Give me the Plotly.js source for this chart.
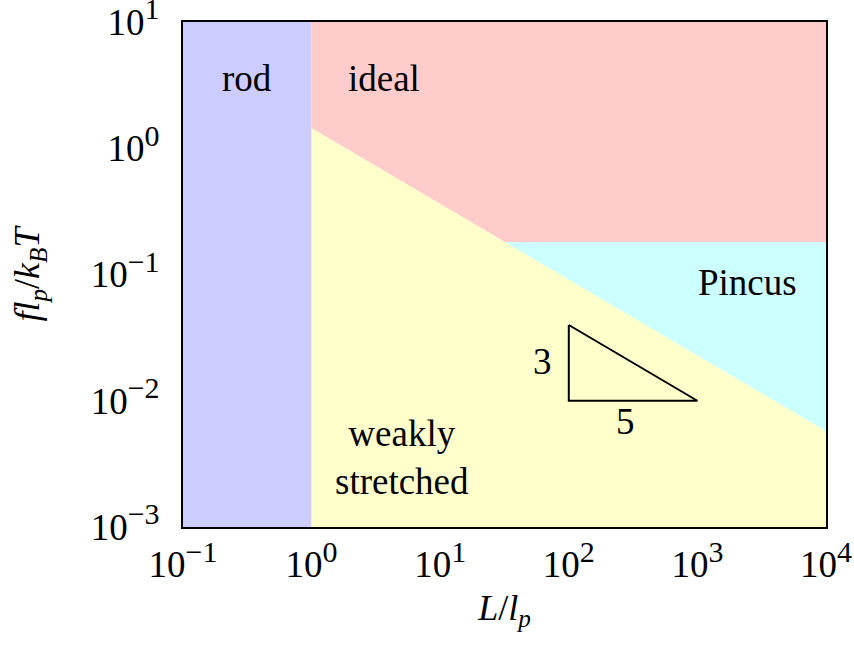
<!DOCTYPE html>
<html>
<head>
<meta charset="utf-8">
<script src="https://cdn.plot.ly/plotly-3.0.1.min.js"></script>
<style>html,body{margin:0;padding:0;background:#fff;}#chart{width:854px;height:648px;}</style>
</head>
<body>
<div id="chart"></div>
<script>
// Axis ranges (L/l_p and f l_p / k_B T)
const xRange = [0.1, 1e4];
const yRange = [1e-3, 10];
// Rod / ideal boundary
const rodEdge = 1;
// Weakly-stretched crossover line f ~ L^(-3/5)
const lineX = [1, 1e4];
const lineY = [1.44, 0.00574];
// Pincus boundary
const pincusY = 0.18;
const pincusX = 32;
// Slope triangle (3/5)
const triX = [100, 100, 1000, 100];
const triY = [0.0398, 0.01, 0.01, 0.0398];
// Tick values and labels
const tickVals = [0.1, 1, 10, 100, 1000, 10000];
const tickExpX = ["−1", "0", "1", "2", "3", "4"];
const yTickVals = [0.001, 0.01, 0.1, 1, 10];
const tickExpY = ["−3", "−2", "−1", "0", "1"];
// Region labels
const labelText = ["rod", "ideal", "Pincus", "weakly<br>stretched", "3", "5"];
const labelX = [0.316, 3.67, 2450, 5.08, 63, 275];
const labelY = [3.6, 3.6, 0.0857, 0.00352, 0.0204, 0.0069];

const colors = {rod: "#ccccff", ideal: "#ffcccc", weak: "#ffffcc", pincus: "#ccffff"};
const pow10 = e => "10<sup><span style=\"font-size:30px\">" + e + "</span></sup>";

function region(x, y, color) {
  return {x: x, y: y, type: "scatter", mode: "lines", fill: "toself",
    fillcolor: color, line: {width: 0, color: color}, hoverinfo: "skip", showlegend: false};
}

const traces = [
  region([xRange[0], rodEdge, rodEdge, xRange[0], xRange[0]],
         [yRange[0], yRange[0], yRange[1], yRange[1], yRange[0]], colors.rod),
  region([lineX[0], pincusX, xRange[1], xRange[1], lineX[0], lineX[0]],
         [lineY[0], pincusY, pincusY, yRange[1], yRange[1], lineY[0]], colors.ideal),
  region([pincusX, xRange[1], xRange[1], pincusX],
         [pincusY, pincusY, lineY[1], pincusY], colors.pincus),
  region([lineX[0], lineX[1], xRange[1], lineX[0], lineX[0]],
         [lineY[0], lineY[1], yRange[0], yRange[0], lineY[0]], colors.weak),
  {x: triX, y: triY, type: "scatter", mode: "lines",
   line: {color: "#000", width: 2}, hoverinfo: "skip", showlegend: false}
];

const font = "Liberation Serif, Times New Roman, serif";
const annotations = labelText.map((t, i) => ({
  x: Math.log10(labelX[i]), y: Math.log10(labelY[i]), xref: "x", yref: "y",
  text: t, showarrow: false, font: {family: font, size: 37, color: "#000"},
  xanchor: "center", yanchor: "middle"
}));

const eps = 1e-4;
const layout = {
  width: 854, height: 648,
  margin: {l: 183, r: 28, t: 22, b: 121},
  paper_bgcolor: "#fff", plot_bgcolor: "#fff",
  font: {family: font, size: 36, color: "#000"},
  showlegend: false,
  xaxis: {
    type: "log", range: [Math.log10(xRange[0]) - eps, Math.log10(xRange[1]) + eps],
    tickmode: "array", tickvals: tickVals, ticktext: tickExpX.map(pow10),
    showgrid: false, zeroline: false, ticks: "",
    showline: true, mirror: true, linecolor: "#000", linewidth: 2,
    tickfont: {family: font, size: 37}, ticklabelstandoff: 4, ticklabeloverflow: "allow",
    title: {text: "<i>L</i>/<i>l</i><sub><i>p</i></sub>", font: {family: font, size: 36}, standoff: 10}
  },
  yaxis: {
    type: "log", range: [Math.log10(yRange[0]) - eps, Math.log10(yRange[1]) + eps],
    tickmode: "array", tickvals: yTickVals, ticktext: tickExpY.map(pow10),
    showgrid: false, zeroline: false, ticks: "",
    showline: true, mirror: true, linecolor: "#000", linewidth: 2,
    tickfont: {family: font, size: 37}, ticklabelstandoff: 14, ticklabeloverflow: "allow",
    title: {text: "<i>fl</i><sub><i>p</i></sub>/<i>k</i><sub><i>B</i></sub><i>T</i>", font: {family: font, size: 36}, standoff: 40}
  },
  annotations: annotations
};

Plotly.newPlot("chart", traces, layout, {displayModeBar: false, staticPlot: true});
</script>
</body>
</html>
